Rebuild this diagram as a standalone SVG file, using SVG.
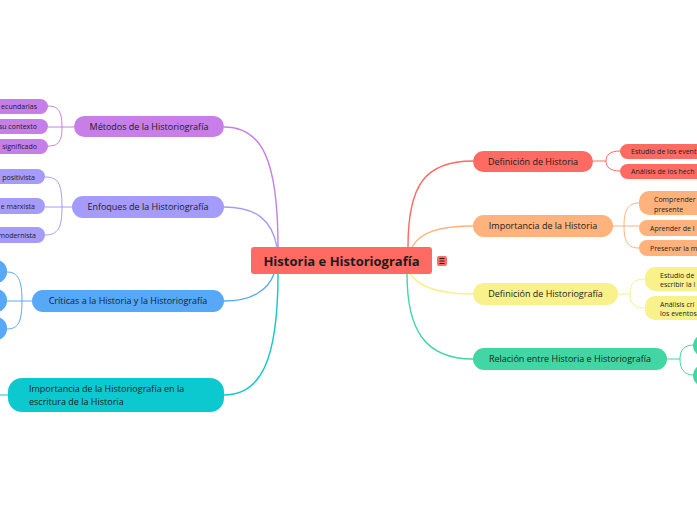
<svg xmlns="http://www.w3.org/2000/svg" width="697" height="520" viewBox="0 0 697 520">
<style>
text{font-family:"Open Sans","Noto Sans","Liberation Sans",sans-serif;fill:#1c1c1c}
.m{font-size:9px}
.c{font-size:7px}
.t{font-size:13px;font-weight:bold}
.cn{fill:none;stroke-width:1.4}
.cc{fill:none;stroke-width:1}
</style>
<rect width="697" height="520" fill="#ffffff"/>
<g id="connectors">
<path class="cn" stroke="#c77ee8" d="M278,247 C278,160 262,127 224,127"/>
<path class="cn" stroke="#a59bfa" d="M277,247 C272,220 256,207 224,207"/>
<path class="cn" stroke="#58a8f8" d="M274,274 C268,290 252,301 224,301"/>
<path class="cn" stroke="#0bc9cf" d="M278,274 C278,362 260,395 224,395"/>
<path class="cn" stroke="#ff6a62" d="M408,247 C408,185 425,161 473,161"/>
<path class="cn" stroke="#ffb27c" d="M412,247 C420,232 440,226 473,226"/>
<path class="cn" stroke="#f9f18b" d="M410,274 C420,288 440,294 473,294"/>
<path class="cn" stroke="#42d6a4" d="M407,274 C407,330 425,359 473,359"/>
<path class="cc" stroke="#c77ee8" d="M74,127 H48 M62,127 C62,111 58,106 48,106 M62,127 C62,142 58,146 48,146"/>
<path class="cc" stroke="#a59bfa" d="M72,207 H62 M62,207 C62,183 58,177 45,177 M62,207 C62,228 58,235 45,235 M62,207 H45"/>
<path class="cc" stroke="#58a8f8" d="M32,301 H7 M22,301 C22,280 18,272 7,272 M22,301 C22,322 18,329 7,329"/>
<path class="cc" stroke="#0bc9cf" d="M8,395 H0"/>
<path class="cc" stroke="#ff6a62" d="M593,161 H606 M606,161 C606,155 610,151 620,151 M606,161 C606,167 610,171 620,171"/>
<path class="cc" stroke="#ffb27c" d="M613,226 H639 M624,226 C624,210 628,203 639,203 M624,226 C624,242 628,248 639,248"/>
<path class="cc" stroke="#f9f18b" d="M618,294 H630 M630,294 C630,284 634,279 645,279 M630,294 C630,303 634,308 645,308"/>
<path class="cc" stroke="#42d6a4" d="M667,359 H680 M680,359 C680,350 684,345 694,345 M680,359 C680,369 684,375 694,375"/>
</g>
<g id="center">
<rect x="251" y="247" width="181" height="27" rx="3" fill="#ff6a62"/>
<text class="t" x="341.5" y="265.5" text-anchor="middle">Historia e Historiografía</text>
<rect x="437" y="256" width="10" height="10" rx="2" fill="#ff6a62"/>
<path d="M439.5,258.5 H444.5 M439.5,261 H444.5 M439.5,263.5 H444.5" stroke="#1c1c1c" stroke-width="1"/>
</g>
<g id="def-historia">
<rect x="473" y="151" width="120" height="21" rx="10.5" fill="#ff6a62"/>
<text class="m" x="533" y="164.5" text-anchor="middle">Definición de Historia</text>
</g>
<g id="def-historia-1"><rect x="620" y="144" width="140" height="15" rx="7.5" fill="#ff6a62"/><text class="c" x="631" y="154">Estudio de los event</text></g>
<g id="def-historia-2"><rect x="620" y="164" width="140" height="15" rx="7.5" fill="#ff6a62"/><text class="c" x="631" y="174">Análisis de los hech</text></g>
<g id="imp-historia">
<rect x="473" y="215" width="140" height="22" rx="11" fill="#ffb27c"/>
<text class="m" x="543" y="229" text-anchor="middle">Importancia de la Historia</text>
</g>
<g id="imp-historia-1"><rect x="639" y="191" width="120" height="24" rx="10" fill="#ffb27c"/><text class="c" x="654" y="202">Comprender</text><text class="c" x="654" y="211.5">presente</text></g>
<g id="imp-historia-2"><rect x="639" y="220" width="120" height="16" rx="8" fill="#ffb27c"/><text class="c" x="650" y="230.5">Aprender de l</text></g>
<g id="imp-historia-3"><rect x="639" y="240" width="120" height="16" rx="8" fill="#ffb27c"/><text class="c" x="650" y="250.5">Preservar la m</text></g>
<g id="def-historiografia">
<rect x="473" y="283" width="145" height="22" rx="11" fill="#f9f18b"/>
<text class="m" x="545.5" y="297" text-anchor="middle">Definición de Historiografía</text>
</g>
<g id="def-historiografia-1"><rect x="645" y="267" width="120" height="24" rx="10" fill="#f9f18b"/><text class="c" x="660" y="277.5">Estudio de</text><text class="c" x="660" y="287">escribir la l</text></g>
<g id="def-historiografia-2"><rect x="645" y="296" width="120" height="24" rx="10" fill="#f9f18b"/><text class="c" x="660" y="306.5">Análisis crí</text><text class="c" x="660" y="316">los eventos</text></g>
<g id="relacion">
<rect x="473" y="348" width="194" height="22" rx="11" fill="#42d6a4"/>
<text class="m" x="570" y="362" text-anchor="middle">Relación entre Historia e Historiografía</text>
</g>
<g id="relacion-1"><rect x="693" y="335" width="60" height="21" rx="10" fill="#42d6a4"/></g>
<g id="relacion-2"><rect x="693" y="365" width="60" height="21" rx="10" fill="#42d6a4"/></g>
<g id="metodos">
<rect x="74" y="116" width="150" height="21" rx="10.5" fill="#c77ee8"/>
<text class="m" x="149" y="130" text-anchor="middle">Métodos de la Historiografía</text>
</g>
<g id="metodos-1"><rect x="-60" y="99" width="108" height="15" rx="7.5" fill="#c77ee8"/><text class="c" x="37" y="109" text-anchor="end">ecundarias</text></g>
<g id="metodos-2"><rect x="-60" y="119" width="108" height="15" rx="7.5" fill="#c77ee8"/><text class="c" x="37" y="129" text-anchor="end">su contexto</text></g>
<g id="metodos-3"><rect x="-60" y="139" width="108" height="15" rx="7.5" fill="#c77ee8"/><text class="c" x="37" y="149" text-anchor="end">significado</text></g>
<g id="enfoques">
<rect x="72" y="196" width="152" height="22" rx="11" fill="#a59bfa"/>
<text class="m" x="148" y="210" text-anchor="middle">Enfoques de la Historiografía</text>
</g>
<g id="enfoques-1"><rect x="-60" y="169" width="105" height="15" rx="7.5" fill="#a59bfa"/><text class="c" x="35" y="179.5" text-anchor="end">positivista</text></g>
<g id="enfoques-2"><rect x="-60" y="198" width="105" height="16" rx="8" fill="#a59bfa"/><text class="c" x="35" y="208.5" text-anchor="end">e marxista</text></g>
<g id="enfoques-3"><rect x="-60" y="227" width="105" height="16" rx="8" fill="#a59bfa"/><text class="c" x="36" y="237.5" text-anchor="end">modernista</text></g>
<g id="criticas">
<rect x="32" y="290" width="192" height="22" rx="11" fill="#58a8f8"/>
<text class="m" x="128" y="304" text-anchor="middle">Críticas a la Historia y la Historiografía</text>
</g>
<g id="criticas-1"><rect x="-60" y="260" width="67" height="23" rx="11" fill="#58a8f8"/></g>
<g id="criticas-2"><rect x="-60" y="289" width="67" height="23" rx="11" fill="#58a8f8"/></g>
<g id="criticas-3"><rect x="-60" y="317" width="67" height="23" rx="11" fill="#58a8f8"/></g>
<g id="importancia-historiografia">
<rect x="8" y="378" width="216" height="34" rx="14" fill="#0bc9cf"/>
<text class="m" x="29" y="392">Importancia de la Historiografía en la</text>
<text class="m" x="29" y="405">escritura de la Historia</text>
</g>
</svg>
